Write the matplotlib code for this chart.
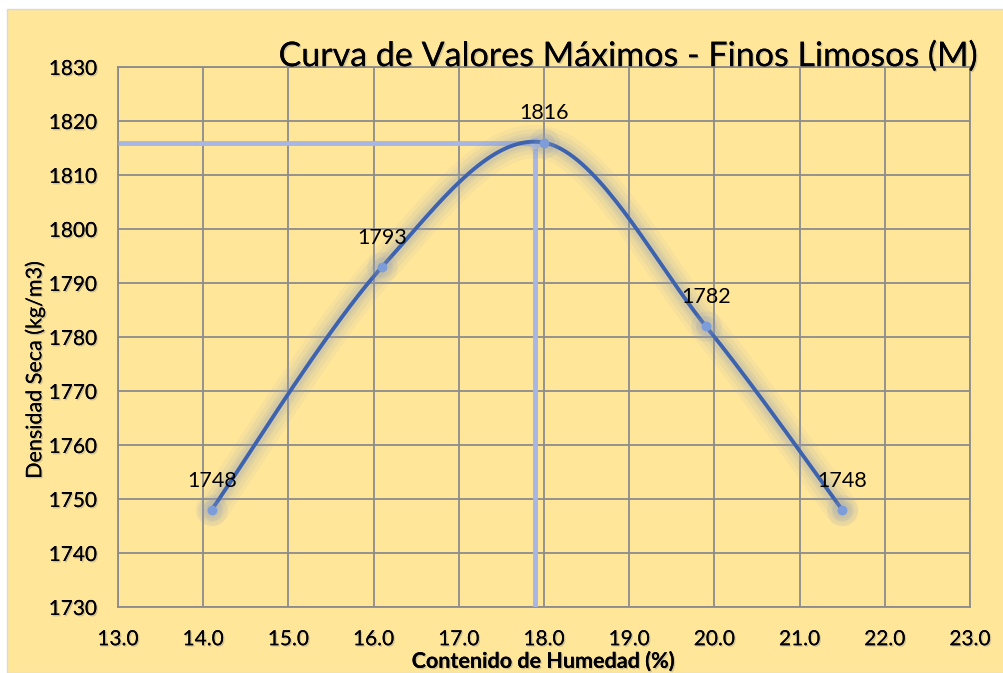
import numpy as np
import matplotlib
matplotlib.use("Agg")
import matplotlib.pyplot as plt
import matplotlib.patheffects as pe
from matplotlib.patches import Rectangle

# data
moisture = [14.1, 16.1, 18.0, 19.9, 21.5]
density = [1748, 1793, 1816, 1782, 1748]
opt_moisture = 17.9
opt_density = 1816

x_ticks = [13.0, 14.0, 15.0, 16.0, 17.0, 18.0, 19.0, 20.0, 21.0, 22.0, 23.0]
y_ticks = [1730, 1740, 1750, 1760, 1770, 1780, 1790, 1800, 1810, 1820, 1830]

title = "Curva de Valores Máximos - Finos Limosos (M)"
x_label = "Contenido de Humedad (%)"
y_label = "Densidad Seca (kg/m3)"

BG = "#FFE699"
GRID = "#8C8C8C"
LINE = "#3D62AE"
MARK = "#7C9CDA"
REF = "#A7B6E2"
FONT = ["Lato", "DejaVu Sans"]


def smooth(xs, ys, n=40):
    # catmull-rom like Excel's smoothed line
    px = [xs[0]] + list(xs) + [xs[-1]]
    py = [ys[0]] + list(ys) + [ys[-1]]
    outx, outy = [], []
    t = np.linspace(0, 1, n)
    for i in range(1, len(px) - 2):
        for p, out in ((px, outx), (py, outy)):
            p0, p1, p2, p3 = p[i - 1], p[i], p[i + 1], p[i + 2]
            out.extend(0.5 * ((2 * p1) + (-p0 + p2) * t
                              + (2 * p0 - 5 * p1 + 4 * p2 - p3) * t ** 2
                              + (-p0 + 3 * p1 - 3 * p2 + p3) * t ** 3))
    return np.array(outx), np.array(outy)


fig = plt.figure(figsize=(10.04, 6.73), dpi=100, facecolor="white")
fig.patches.append(Rectangle((7 / 1004, 0), 1, 1 - 9 / 673, transform=fig.transFigure,
                             facecolor=BG, edgecolor="#D9D9D9", lw=1, zorder=-5))

ax = fig.add_axes([118 / 1004, 66 / 673, 852 / 1004, 540 / 673])
ax.set_facecolor(BG)
ax.set_xlim(13, 23)
ax.set_ylim(1730, 1830)
ax.set_xticks(x_ticks)
ax.set_yticks(y_ticks)
ax.set_xticklabels([f"{v:.1f}" for v in x_ticks])
ax.set_yticklabels([str(v) for v in y_ticks])
ax.grid(True, color=GRID, lw=1.3)
ax.set_axisbelow(True)
for s in ax.spines.values():
    s.set_color(GRID)
    s.set_linewidth(1.3)
ax.tick_params(length=0, labelsize=15)
ax.tick_params(axis="x", pad=16)
ax.tick_params(axis="y", pad=15)

shadow = [pe.withSimplePatchShadow(offset=(1, -1), shadow_rgbFace="#7F7F7F", alpha=0.35), pe.Normal()]
for lab in ax.get_xticklabels() + ax.get_yticklabels():
    lab.set_fontfamily(FONT)
    lab.set_path_effects(shadow)

# reference lines at the optimum
ax.plot([13, opt_moisture], [opt_density, opt_density], color=REF, lw=3.5, zorder=3, solid_capstyle="butt")
ax.plot([opt_moisture, opt_moisture], [1730, opt_density], color=REF, lw=3.5, zorder=3, solid_capstyle="butt")
ax.plot([opt_moisture], [opt_density], "o", color="#C5D0EE", ms=7, zorder=4)

# smoothed curve with soft glow
sx, sy = smooth(moisture, density)
for w, a in ((24, 0.07), (18, 0.09), (12, 0.12), (8, 0.15)):
    ax.plot(sx, sy, color="#8C9CBC", lw=w, alpha=a, zorder=4, solid_capstyle="round")
ax.plot(sx, sy, color=LINE, lw=2.8, zorder=5)
for w, a in ((22, 0.12), (15, 0.18)):
    ax.plot(moisture, density, "o", color="#8C9CBC", ms=w, alpha=a, zorder=5, mec="none")
ax.plot(moisture, density, "o", color=MARK, ms=7, zorder=6, mec="none")

for x, y in zip(moisture, density):
    ax.annotate(str(y), (x, y), xytext=(0, 21), textcoords="offset points",
                ha="center", va="center", fontsize=15.5, family=FONT, zorder=7)

fig.text(628 / 1004, 1 - 56 / 673, title, ha="center", va="center", fontsize=24.5,
         family=FONT, path_effects=shadow)
fig.text(35 / 1004, 1 - 370 / 673, y_label, rotation=90, ha="center", va="center",
         fontsize=15.5, family=FONT, path_effects=shadow)
fig.text(543 / 1004, 1 - 661 / 673, x_label, ha="center", va="center",
         fontsize=15.5, fontweight="bold", family=FONT, path_effects=shadow)

fig.savefig("out.png", dpi=100, facecolor=fig.get_facecolor())
